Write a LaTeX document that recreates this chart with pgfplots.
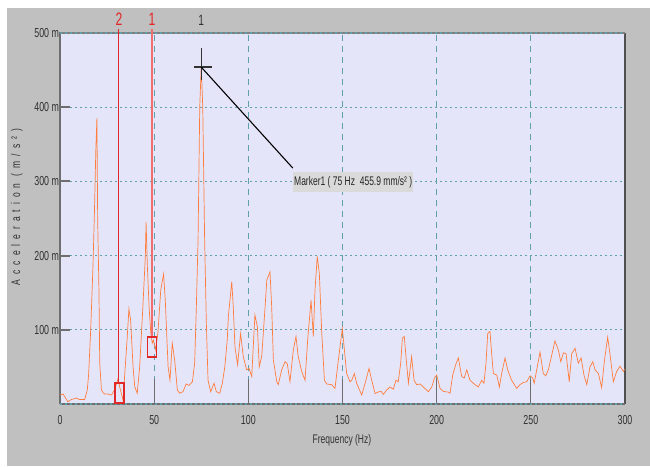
\documentclass[border=0pt]{standalone}
\usepackage{pgfplots}
\pgfplotsset{compat=1.18}
\usepackage{fontspec}
\setmainfont[FakeStretch=0.68]{Liberation Sans}
\newfontfamily\ylabfont[FakeStretch=0.68,LetterSpace=40]{Liberation Sans}
\definecolor{bggray}{RGB}{192,192,192}
\definecolor{plotbg}{RGB}{229,229,250}
\definecolor{gridc}{RGB}{95,160,170}
\definecolor{axgray}{RGB}{110,110,110}
\definecolor{axdark}{RGB}{80,80,80}
\definecolor{txt}{RGB}{50,50,50}
\definecolor{curve}{RGB}{255,125,60}
\definecolor{mkone}{RGB}{240,110,110}
\definecolor{mktwo}{RGB}{225,40,40}
\definecolor{callout}{RGB}{218,218,218}
\begin{document}
\begin{tikzpicture}[x=1pt,y=1pt]
\fill[white] (0,0) rectangle (650,466);
\fill[bggray] (7,0) rectangle (650,458);
\begin{axis}[
  scale only axis, width=565pt, height=371pt,
  at={(60pt,62pt)}, anchor=south west,
  xmin=0, xmax=300, ymin=0, ymax=500,
  axis background/.style={fill=plotbg},
  axis line style={draw=none},
  xtick={0,50,100,150,200,250,300},
  xticklabels={0,50,100,150,200,250,300},
  ytick={100,200,300,400,500},
  yticklabels={100 m,200 m,300 m,400 m,500 m},
  major tick length=0pt,
  tick label style={font=\fontsize{13}{15}\selectfont, text=txt},
  yticklabel style={xshift=2.5pt},
  xticklabel style={yshift=-8pt},
  xlabel={Frequency (Hz)},
  ylabel={Acceleration (m/s²)},
  every axis x label/.style={at={(axis description cs:0.499,-0.097)},anchor=center,
     font=\fontsize{12.5}{15}\selectfont, text=txt},
  every axis y label/.style={at={(axis description cs:-0.0761,0.531)},rotate=90,anchor=center,
     font=\fontsize{12.5}{15}\ylabfont, text=txt},
  clip=false,
]
% grid
\pgfplotsinvokeforeach{50,100,150,200,250}{
  \draw[gridc, dash pattern=on 6pt off 5pt, line width=0.9pt] (axis cs:#1,0) -- (axis cs:#1,500);
  \draw[axgray, line width=1.2pt] (axis cs:#1,0) -- ++(0,25pt);
}
\pgfplotsinvokeforeach{100,200,300,400}{
  \draw[gridc, dash pattern=on 2pt off 3pt, line width=1.3pt] (axis cs:0,#1) -- (axis cs:300,#1);
}
\pgfplotsinvokeforeach{100,200,300,400,500}{
  \draw[axgray, line width=2pt] (axis cs:0,#1) ++(-1pt,0) -- ++(11pt,0);
}
% frame
\draw[axgray, line width=1.2pt] (axis cs:0,0) -- (axis cs:0,500);
\draw[axdark, line width=1.5pt] (axis cs:300,0) -- (axis cs:300,500);
\draw[axgray, line width=2pt] (axis cs:0,0) -- (axis cs:300,0);
\draw[gridc, dash pattern=on 2pt off 3pt, line width=1.3pt] (axis cs:0,0) -- (axis cs:300,0);
\draw[gray, line width=1.5pt] (axis cs:0,500) -- (axis cs:300,500);
\draw[gridc, dash pattern=on 2pt off 3pt, line width=1.3pt] (axis cs:0,500) -- (axis cs:300,500);
% spectrum
\addplot[curve, line width=0.7pt] coordinates {
(0,12) (1.6,13.5) (3,8) (4.2,3) (6,6) (8.7,8) (10.4,6) (13.1,6) (14.5,19) (15.2,40)
(16.3,100) (17.5,185) (18.3,260) (19.0,340) (19.6,385) (20.0,250) (20.7,150) (21.1,55) (22,19) (23,15)
(23.7,13.5) (25.5,13.5) (27.3,12) (29,19) (30.8,34) (31.7,23) (33.5,5) (34.3,37) (35.6,86) (36.6,128)
(37.5,113) (38.8,50) (39.7,23) (41,14.5) (42.3,50) (44,131) (45.3,198) (45.7,245) (46.4,185) (47.3,131)
(48.2,96) (49,82) (49.6,86) (50.8,73) (52,96) (53.5,154) (55,175) (55.9,140) (57.4,50) (58.4,32)
(59.6,82) (60.9,59) (62.3,19) (63.5,14.5) (65.3,16.6) (67,27) (68.5,25) (70.3,30) (71.5,55) (72.4,131)
(73.3,221) (74.2,400) (75,456) (75.8,400) (76.8,221) (77.7,109) (78.6,32) (80,16.6) (81.8,28) (83,16.6)
(84.8,14.5) (86.2,28) (87.5,50) (88.8,86) (89.4,118) (91.2,165) (92,131) (92.9,77) (94.3,53) (95.9,95)
(97.3,64) (99.1,46) (100.4,48) (101.8,37) (103.5,120) (104.8,104) (105.8,50) (107.1,64) (108.9,131) (109.8,167)
(111.5,178) (112.4,131) (113.3,59) (115.1,30) (115.9,26) (117.7,46) (119.5,57) (120.7,54) (122.1,30) (123.9,73)
(125.3,91) (126.5,64) (128.3,44) (130.1,32) (131.5,86) (133.3,140) (134.5,91) (135.4,154) (136.6,199) (137.7,176)
(139,95) (140.4,32) (141.6,27) (144.3,26) (146,21) (147.8,59) (149.9,102) (151,73) (152.2,41) (154,30)
(154.9,32) (156.3,41) (157.5,28) (160.2,12) (162,28) (164.1,48) (165.5,32) (167.3,14) (168.7,16) (170.5,17)
(171.7,13) (173.5,19) (175.2,23) (177,20) (178.4,32) (179.6,30) (180.9,55) (181.8,89) (182.8,91) (183.7,64)
(185,28) (186.7,64) (188,32) (189.4,26) (191.2,27) (192.9,23) (195.6,16.6) (197.4,23) (198.8,35) (200,39)
(201.8,21) (203.5,17) (206.2,16) (207.1,14.5) (208.5,39) (210.1,53) (211.5,62) (213.3,37) (214.6,35) (216,46)
(217.7,32) (220.4,26) (222.1,23) (223.9,32) (225.1,28) (226.2,55) (227.1,95) (228.3,98) (229.2,68) (230.1,41)
(231.9,39) (233.3,23) (234.5,41) (236.3,62) (237.7,46) (239.8,32) (242.5,21) (244.2,26) (246,29) (247.8,30)
(249.6,38) (251,35) (251.8,28) (253.1,46) (254.9,70) (256.6,41) (257.9,38) (259.3,46) (261.1,66) (262.8,85)
(264.6,73) (265.9,57) (267.3,69) (268.7,68) (270.4,30) (271.7,68) (273.5,75) (275.2,55) (276.7,62) (278.2,39)
(279.7,26) (281.4,50) (282.9,57) (284.1,46) (285.9,41) (287.6,22) (289.1,59) (290.8,90) (292,68) (293.8,30)
(295.6,44) (297.3,51) (299.1,44) (300,47)
};
% markers
\draw[mktwo, line width=0.9pt] (axis cs:31.3,28.3) -- (axis cs:31.3,505);
\draw[mktwo, line width=1.2pt] (axis cs:29.2,1.3) rectangle (axis cs:34,28.3);
\draw[mkone, line width=1.8pt] (axis cs:48.9,90.3) -- (axis cs:48.9,505);
\draw[mktwo, line width=1.2pt] (axis cs:46.6,63.3) rectangle (axis cs:51.4,90.3);
\node[text=mktwo, font=\fontsize{18}{20}\selectfont] at (axis cs:31.3,518) {2};
\node[text=mktwo, font=\fontsize{18}{20}\selectfont] at (axis cs:48.9,518) {1};
\node[text=black!80, font=\fontsize{15}{17}\selectfont] at (axis cs:75,517) {1};
% marker 1 cross and callout
\draw[black!80, line width=1.4pt] (axis cs:75,480) -- (axis cs:75,437);
\draw[black!80, line width=1.6pt] (axis cs:71.2,454) -- (axis cs:80.8,454);
\draw[black, line width=1.1pt] (axis cs:75,454) -- (axis cs:123.6,318);
\node[fill=callout, anchor=north west, inner xsep=1pt, inner ysep=0pt, minimum height=20pt,
      font=\fontsize{12.5}{14}\selectfont, text=black!85] at (axis cs:123.7,312.5)
  {Marker1 ( 75 Hz\ \ 455.9 mm/s² )};
\end{axis}
\pgfresetboundingbox
\useasboundingbox (0,0) rectangle (650,466);
\end{tikzpicture}
\end{document}
